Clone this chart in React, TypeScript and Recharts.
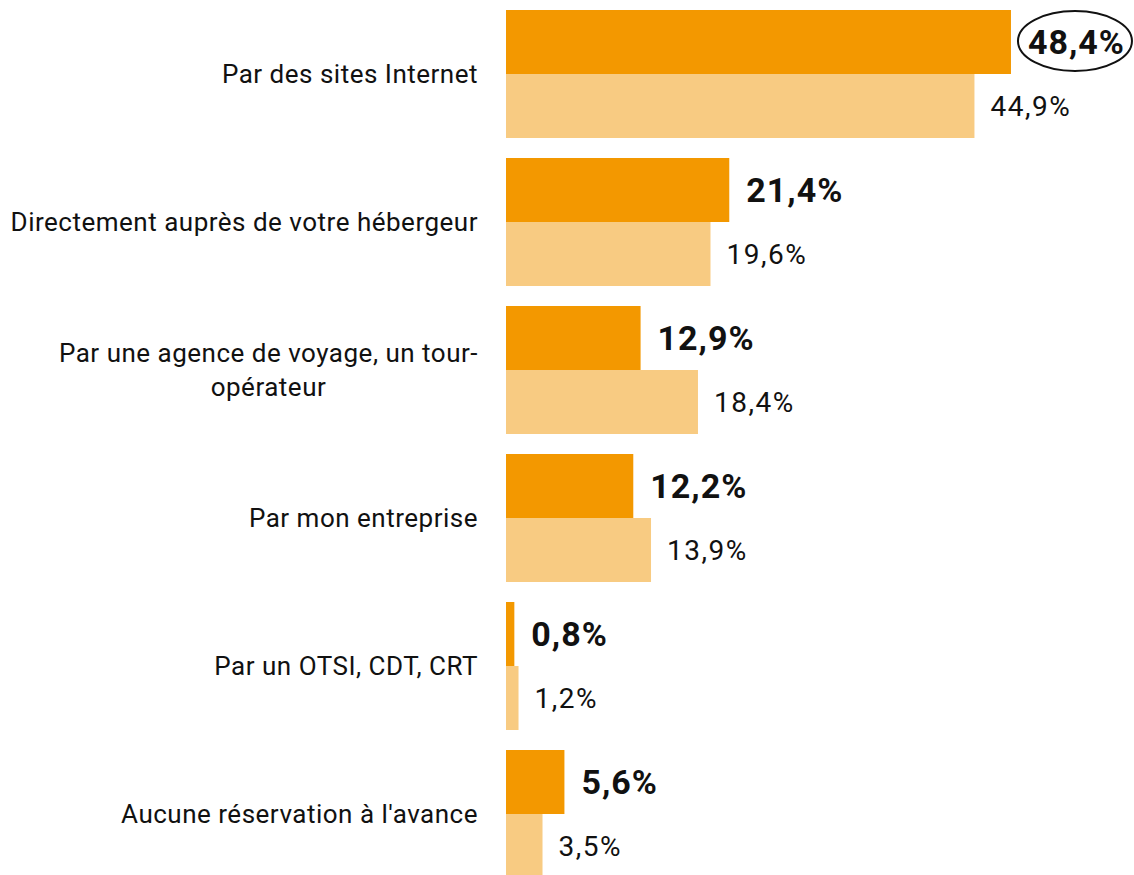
import React from 'react';
import { BarChart, Bar, XAxis, YAxis, LabelList } from 'recharts';

const categories = [
  'Par des sites Internet',
  'Directement auprès de votre hébergeur',
  'Par une agence de voyage, un tour-opérateur',
  'Par mon entreprise',
  'Par un OTSI, CDT, CRT',
  "Aucune réservation à l'avance",
];
const current = [48.4, 21.4, 12.9, 12.2, 0.8, 5.6];
const previous = [44.9, 19.6, 18.4, 13.9, 1.2, 3.5];

const data = categories.map((name, i) => ({ name, current: current[i], previous: previous[i] }));

const FONT = 'Roboto, sans-serif';
const fmt = (v: number) => `${v.toFixed(1).replace('.', ',')}%`;

// rough width of a tick line, used to centre wrapped lines under the longest one
const measure = (s: string) => {
  const ctx = document.createElement('canvas').getContext('2d');
  if (!ctx) return s.length * 12;
  ctx.font = `26px ${FONT}`;
  return ctx.measureText(s).width + s.length * 0.5;
};

const CategoryTick = (props: any) => {
  const { x, y, payload } = props;
  const lines = String(payload.value).replace('tour-', 'tour-\n').split('\n');
  const lh = 34;
  const start = y - ((lines.length - 1) * lh) / 2;
  const blockW = Math.max(...lines.map(measure));
  const cx = lines.length > 1 ? x - blockW / 2 : x;
  return (
    <text x={cx} y={start} textAnchor={lines.length > 1 ? 'middle' : 'end'} fontFamily={FONT} fontSize={26} letterSpacing={0.5} fill="#111">
      {lines.map((l, i) => (
        <tspan key={i} x={cx} y={start + i * lh} dominantBaseline="central">{l}</tspan>
      ))}
    </text>
  );
};

const BoldLabel = (props: any) => {
  const { x, y, width, height, value, index } = props;
  const tx = x + width + 17;
  const ty = y + height / 2;
  return (
    <g>
      {index === 0 && (
        <ellipse cx={tx + 47} cy={ty - 1} rx={57} ry={30} fill="none" stroke="#111" strokeWidth={2} />
      )}
      <text x={tx} y={ty} dominantBaseline="central" fontFamily={FONT} fontSize={34} fontWeight={700} letterSpacing={1} fill="#111">
        {fmt(value)}
      </text>
    </g>
  );
};

const PlainLabel = (props: any) => {
  const { x, y, width, height, value } = props;
  return (
    <text x={x + width + 16} y={y + height / 2} dominantBaseline="central" fontFamily={FONT} fontSize={28} letterSpacing={1.5} fill="#111">
      {fmt(value)}
    </text>
  );
};

export default function App() {
  return (
    <div style={{ position: 'absolute', left: 0, top: 0, background: '#fff' }}>
      <BarChart
        width={1134}
        height={888}
        data={data}
        layout="vertical"
        margin={{ top: 0, right: 2, bottom: 0, left: 0 }}
        barCategoryGap={10}
        barGap={0}
      >
        <XAxis type="number" hide domain={[0, 60]} />
        <YAxis
          type="category"
          dataKey="name"
          width={506}
          axisLine={false}
          tickLine={false}
          tickMargin={22}
          tick={<CategoryTick />}
          interval={0}
        />
        <Bar dataKey="current" fill="#F39800" isAnimationActive={false}>
          <LabelList dataKey="current" content={<BoldLabel />} />
        </Bar>
        <Bar dataKey="previous" fill="#F8CB82" isAnimationActive={false}>
          <LabelList dataKey="previous" content={<PlainLabel />} />
        </Bar>
      </BarChart>
    </div>
  );
}
